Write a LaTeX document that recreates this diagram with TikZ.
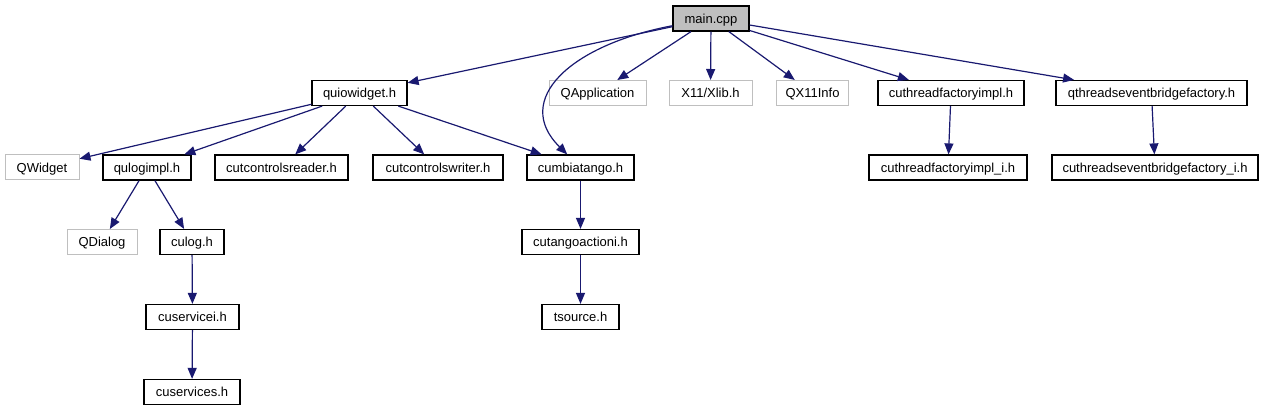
\documentclass[tikz,border=0pt]{standalone}
\usepackage{fontspec}
\setmainfont{Liberation Sans}
\usetikzlibrary{arrows.meta,positioning}
\definecolor{edgeblue}{RGB}{25,25,112}
\definecolor{extgray}{RGB}{191,191,191}
\tikzset{
  hdr/.style={
    draw=black,
    line width=1.2pt,
    fill=white,
    align=center,
    minimum height=25pt,
    inner sep=0pt,
    text height=11pt,
    text depth=1pt,
    font=\fontsize{13}{15}\selectfont
  },
  ext/.style={
    hdr,
    draw=extgray,
    line width=1pt
  },
  root/.style={
    hdr,
    fill=extgray
  },
  arrow/.style={
    -{Triangle[length=11pt,width=9pt]},
    line width=1.2pt,
    edgeblue
  }
}
\begin{document}
\begin{tikzpicture}[x=1pt,y=-1pt]
\useasboundingbox (0,0) rectangle (1264,411);
% top
\node[root, minimum width=76pt] (main) at (711,18.5) {main.cpp};
% row 1
\node[hdr, minimum width=95pt] (quiowidget) at (359.5,93) {quiowidget.h};
\node[ext, minimum width=97pt] (qapp) at (597.5,93) {QApplication};
\node[ext, minimum width=83pt] (xlib) at (710.5,93) {X11/Xlib.h};
\node[ext, minimum width=72pt] (qx11info) at (812.5,93) {QX11Info};
\node[hdr, minimum width=146pt] (thfactory) at (951,93) {cuthreadfactoryimpl.h};
\node[hdr, minimum width=191pt] (qthbridge) at (1151.5,93) {qthreadseventbridgefactory.h};
% row 2
\node[ext, minimum width=74pt] (qwidget) at (42,167.5) {QWidget};
\node[hdr, minimum width=88pt] (qulogimpl) at (147,167.5) {qulogimpl.h};
\node[hdr, minimum width=133pt] (ctrlreader) at (281.5,167.5) {cutcontrolsreader.h};
\node[hdr, minimum width=130pt] (ctrlwriter) at (438,167.5) {cutcontrolswriter.h};
\node[hdr, minimum width=107pt] (cumbiatango) at (580.5,167.5) {cumbiatango.h};
\node[hdr, minimum width=158pt] (thfactoryi) at (948,167.5) {cuthreadfactoryimpl\_i.h};
\node[hdr, minimum width=206pt] (thbridgei) at (1155,167.5) {cuthreadseventbridgefactory\_i.h};
% row 3
\node[ext, minimum width=70pt] (qdialog) at (102,242) {QDialog};
\node[hdr, minimum width=64pt] (culog) at (192,242) {culog.h};
\node[hdr, minimum width=117pt] (tangoaction) at (580.5,242) {cutangoactioni.h};
% rows 4 and 5
\node[hdr, minimum width=93pt] (cuservicei) at (192.5,317) {cuservicei.h};
\node[hdr, minimum width=77pt] (tsource) at (580.5,317) {tsource.h};
\node[hdr, minimum width=96pt] (cuservices) at (192,392) {cuservices.h};

% edges
\draw[arrow] (main) -- (quiowidget);
\draw[arrow] (main) .. controls (570,45) and (512,100) .. (cumbiatango);
\draw[arrow] (main) -- (qapp);
\draw[arrow] (main) -- (xlib);
\draw[arrow] (main) -- (qx11info);
\draw[arrow] (main) -- (thfactory);
\draw[arrow] (main) -- (qthbridge);
\draw[arrow] (quiowidget) -- (qwidget);
\draw[arrow] (quiowidget) -- (qulogimpl);
\draw[arrow] (quiowidget) -- (ctrlreader);
\draw[arrow] (quiowidget) -- (ctrlwriter);
\draw[arrow] (quiowidget) -- (cumbiatango);
\draw[arrow] (qulogimpl) -- (qdialog);
\draw[arrow] (qulogimpl) -- (culog);
\draw[arrow] (culog) -- (cuservicei);
\draw[arrow] (cuservicei) -- (cuservices);
\draw[arrow] (cumbiatango) -- (tangoaction);
\draw[arrow] (tangoaction) -- (tsource);
\draw[arrow] (thfactory) -- (thfactoryi);
\draw[arrow] (qthbridge) -- (thbridgei);
\end{tikzpicture}
\end{document}
